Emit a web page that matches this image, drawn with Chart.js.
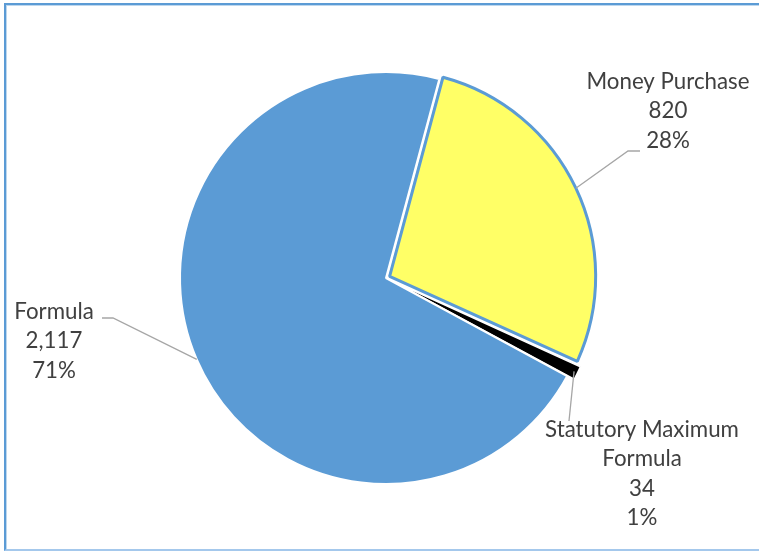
<!DOCTYPE html>
<html>
<head>
<meta charset="utf-8">
<script src="https://cdn.jsdelivr.net/npm/chart.js@4/dist/chart.umd.min.js"></script>
<style>
  html, body { margin: 0; padding: 0; background: #ffffff; }
  #wrap { position: relative; width: 759px; height: 551px; overflow: hidden; }
  #frame {
    position: absolute; left: 4px; top: 3px; width: 754px; height: 544px;
    border-left: 2px solid #5b9bd5; border-top: 2px solid #5b9bd5;
    border-bottom: 2px solid #a4c8ec; box-shadow: inset 1px 1px 0 #bdd7ee;
    pointer-events: none;
  }
  canvas { position: absolute; left: 0; top: 0; }
</style>
</head>
<body>
<div id="wrap">
  <canvas id="c" width="759" height="551"></canvas>
  <div id="frame"></div>
</div>
<script>
// ---- data ----
const categories = ['Money Purchase', 'Statutory Maximum Formula', 'Formula'];
const labelLines = [['Money Purchase'], ['Statutory Maximum', 'Formula'], ['Formula']];
const values = [820, 34, 2117];
const sliceColors = ['#ffff66', '#000000', '#5b9bd5'];
const sliceBorders = ['#5b9bd5', '#ffffff', '#ffffff'];

// ---- label layout (positions only) ----
const labelLayout = [
  { x: 668, y: 82, path: [[628, 151], [640, 151]] },
  { x: 642, y: 430, path: [[569, 421]] },
  { x: 54, y: 312, path: [[113, 318], [102, 318]] }
];

const fmt = v => v.toLocaleString('en-US');
const total = values.reduce((a, b) => a + b, 0);

const labelPlugin = {
  id: 'excelLabels',
  afterDatasetsDraw(chart) {
    const ctx = chart.ctx;
    const meta = chart.getDatasetMeta(0);
    ctx.save();
    meta.data.forEach((arc, i) => {
      const p = arc.getProps(['x', 'y', 'startAngle', 'endAngle', 'outerRadius']);
      const mid = (p.startAngle + p.endAngle) / 2;
      const off = (arc.options.offset || 0) / 4;
      const r = p.outerRadius + off;
      const sx = p.x + Math.cos(mid) * r;
      const sy = p.y + Math.sin(mid) * r;
      const L = labelLayout[i];
      ctx.beginPath();
      ctx.strokeStyle = '#a6a6a6';
      ctx.lineWidth = 1.3;
      ctx.moveTo(sx, sy);
      L.path.forEach(pt => ctx.lineTo(pt[0], pt[1]));
      ctx.stroke();

      const pct = Math.round(values[i] / total * 100) + '%';
      const lines = labelLines[i].concat([fmt(values[i]), pct]);
      ctx.fillStyle = '#404040';
      ctx.font = '22.3px Lato, "Open Sans", sans-serif';
      ctx.textAlign = 'center';
      ctx.textBaseline = 'middle';
      lines.forEach((t, k) => ctx.fillText(t, L.x, L.y + k * 29.3));
    });
    ctx.restore();
  }
};

new Chart(document.getElementById('c'), {
  type: 'pie',
  data: {
    labels: categories,
    datasets: [{
      data: values,
      backgroundColor: sliceColors,
      borderColor: sliceBorders,
      borderWidth: [3, 1.5, 2],
      offset: [16, 16, 0]
    }]
  },
  options: {
    responsive: false,
    animation: false,
    rotation: 15,
    radius: 206,
    layout: { padding: { left: 13, right: 0, top: 5, bottom: 0 } },
    plugins: { legend: { display: false }, tooltip: { enabled: false } }
  },
  plugins: [labelPlugin]
});
</script>
</body>
</html>
